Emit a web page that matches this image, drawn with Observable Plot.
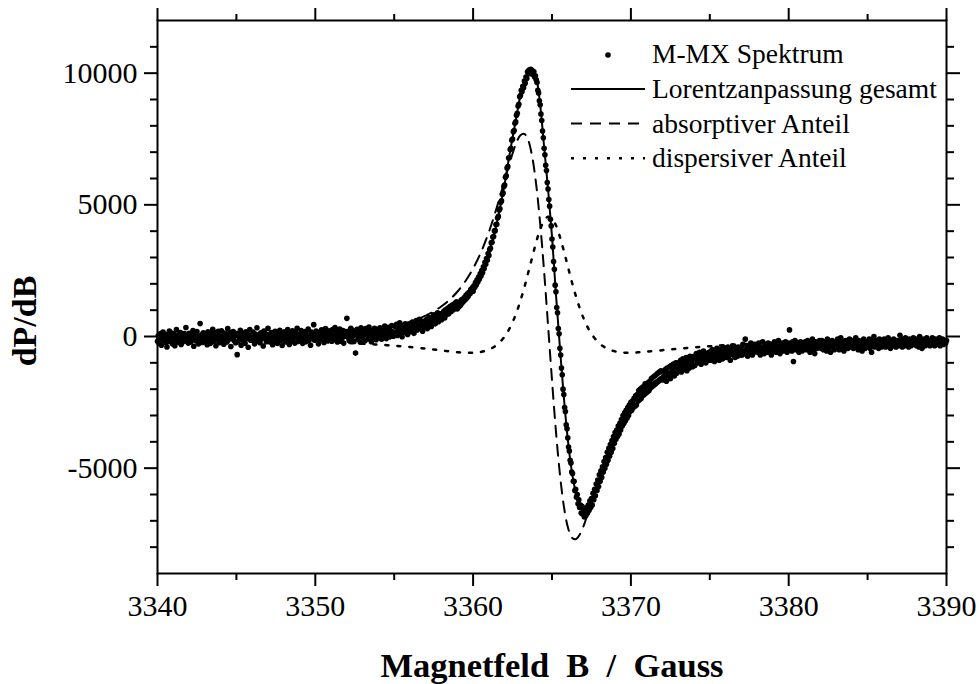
<!DOCTYPE html>
<html>
<head>
<meta charset="utf-8">
<script src="https://cdn.jsdelivr.net/npm/d3@7"></script>
<script src="https://cdn.jsdelivr.net/npm/@observablehq/plot@0.6"></script>
<style>
  html, body { margin: 0; padding: 0; background: #fff; overflow: hidden; }
  #chart svg { display: block; }
</style>
</head>
<body>
<div id="chart"></div>
<script>
// ---------- data ----------
// measured spectrum: uniform field sweep, 3340 ... 3390 G
const specStart = 3340;
const specStep = 0.05;
const specValues = [
  -180, 40, -260, -90, 110, -330, -20, 170, -150, -60, 80, -240, -400, 20, -110, 210, -190, -30, 130, -280,
  -70, 90, -350, -140, 260, -10, -220, 60, -120, 150, -300, -40, 30, -190, 110, -80, 340, -160, -20, -250,
  120, -60, -210, 50, -130, 230, -370, -20, 80, -170, 190, -90, -280, 10, 490, -140, 60, -230, 140, -50,
  -200, 100, -30, -310, 180, -120, 40, -260, 90, -60, 270, -180, -10, 150, -350, 60, -110, 200, -240, 30,
  -90, 220, -160, 10, -290, 130, -50, 80, -210, 300, -120, -20, 160, -380, 40, -70, 190, -150, 70, -240,
  110, -690, -200, 60, -100, 240, -330, -40, 130, -170, 20, -260, 180, -80, 90, -410, 50, 260, -140, -30,
  -120, 170, -60, -280, 90, -190, 330, -10, -150, 60, -240, 140, -90, 30, -360, 210, -50, 100, -200, 40,
  315, -130, 60, -220, 150, -70, -310, 80, -30, 200, -180, 20, -260, 120, -90, 240, -150, 40, -340, 100,
  -40, 180, -210, 90, -120, 260, -60, -300, 130, 10, -170, 220, -80, 50, -250, 140, -20, 310, -190, 70,
  -140, 60, 230, -90, -260, 120, -30, 190, -200, 80, -60, 280, -150, 20, -330, 170, -40, 100, 450, -120,
  -50, 210, -130, 90, -280, 160, 30, -100, 250, -20, 140, -230, 70, 300, -90, 180, -160, 40, 220, -60,
  120, -180, 260, 30, -110, 340, -40, 170, -210, 90, 20, 280, -130, 150, -60, 230, -250, 110, 10, 190,
  690, -20, 200, -150, 120, 310, -80, 240, 20, -190, 160, -630, 90, 270, -100, 180, 40, -220, 330, 70,
  -30, 250, 110, -160, 300, 60, 190, -90, 360, 20, 140, -200, 230, 80, -40, 310, 150, -120, 270, 50,
  200, -50, 330, 110, -100, 260, 170, 20, 400, 90, -80, 290, 140, 350, -20, 230, 60, 420, 180, 10,
  90, 380, 170, 460, 40, 300, 230, 520, 120, 350, -10, 420, 260, 160, 480, 210, 370, 80, 440, 300,
  180, 470, 260, 550, 330, 120, 500, 380, 610, 250, 430, 340, 650, 290, 520, 400, 200, 580, 450, 360,
  390, 640, 300, 560, 720, 470, 620, 380, 700, 530, 820, 600, 480, 760, 650, 900, 560, 780, 690, 850,
  640, 880, 760, 960, 700, 1010, 830, 920, 1080, 860, 1000, 1150, 940, 1080, 1200, 1020, 1160, 1260, 1100, 1320,
  1050, 1220, 1130, 1300, 1190, 1380, 1270, 1420, 1340, 1480, 1400, 1560, 1460, 1620, 1540, 1680, 1620, 1780, 1700, 1850,
  1720, 1930, 1860, 2050, 1960, 2150, 2070, 2260, 2180, 2380, 2300, 2500, 2420, 2650, 2580, 2820, 2740, 2960, 2900, 3150,
  3080, 3300, 3350, 3560, 3580, 3780, 3800, 4010, 4020, 4250, 4260, 4500, 4560, 4800, 4850, 5100, 5150, 5400, 5450, 5700,
  5750, 6050, 6100, 6400, 6450, 6780, 6800, 7100, 7150, 7450, 7500, 7780, 7820, 8100, 8150, 8400, 8480, 8750, 8820, 9100,
  9150, 9350, 9300, 9500, 9450, 9700, 9620, 9850, 9800, 10050, 9980, 10120, 10000, 10150, 9980, 10100, 9950, 10050, 9850, 9900,
  9750, 9650, 9350, 9250, 8950, 8800, 8450, 8200, 7800, 7550, 7150, 6900, 6500, 6300, 5850, 5600, 5200, 4950, 4450, 4200,
  3700, 3400, 2850, 2550, 1950, 1700, 1100, 900, 300, 100, -450, -700, -1200, -1450, -2000, -2200, -2700, -2850, -3350, -3500,
  -3850, -4200, -4350, -4700, -4800, -5150, -5200, -5500, -5500, -5850, -5800, -6100, -6000, -6350, -6200, -6500, -6400, -6700, -6450, -6750,
  -6550, -6850, -6600, -6800, -6500, -6700, -6400, -6600, -6250, -6500, -6150, -6400, -5950, -6200, -5800, -6050, -5600, -5850, -5450, -5700,
  -5250, -5500, -5100, -5350, -4950, -5150, -4750, -5000, -4600, -4850, -4400, -4700, -4250, -4550, -4100, -4400, -3950, -4250, -3800, -4050,
  -3650, -3900, -3550, -3800, -3400, -3700, -3300, -3550, -3150, -3400, -3000, -3300, -2900, -3200, -2800, -3100, -2700, -3000, -2600, -2850,
  -2500, -2800, -2450, -2700, -2350, -2650, -2250, -2600, -2200, -2450, -2050, -2400, -2000, -2350, -1950, -2250, -1900, -2200, -1800, -2150,
  -1800, -2100, -1750, -2050, -1700, -1950, -1600, -1900, -1550, -1850, -1500, -1800, -1450, -1750, -1400, -1700, -1350, -1650, -1300, -1600,
  -1350, -1650, -1300, -1550, -1250, -1700, -1200, -1500, -1400, -1150, -1600, -1100, -1450, -1300, -1050, -1500, -1200, -1000, -1400, -1150,
  -1000, -1300, -1150, -900, -1350, -1050, -850, -1250, -950, -1100, -800, -1300, -1000, -900, -1200, -750, -1050, -950, -1150, -800,
  -750, -1100, -850, -650, -1000, -800, -950, -600, -900, -1050, -700, -850, -550, -950, -750, -1000, -650, -800, -900, -600,
  -600, -900, -700, -500, -850, -650, -950, -550, -750, -450, -800, -650, -900, -500, -700, -600, -850, -400, -750, -550,
  -500, -800, -650, -400, -750, -550, -900, -450, -650, -350, -700, -600, -800, -450, -550, -750, -400, -650, -500, -700,
  -400, -700, -300, -650, -550, -100, -600, -450, -750, -350, -550, -650, -250, -500, -700, -400, -600, -300, -550, -450,
  -350, -600, -250, -500, -700, -400, -550, -200, -450, -650, -300, -500, -400, -600, -250, -550, -350, -450, -700, -300,
  -300, -550, -200, -450, -600, -350, -500, -150, -400, -650, -300, -450, -250, -550, -350, -500, -200, -450, -600, -300,
  -250, 250, -450, -300, -550, -200, -950, -400, -150, -500, -350, -250, -450, -600, -300, -200, -400, -550, -250, -350,
  -400, -200, -500, -300, -150, -450, -350, -600, -250, -400, -100, -500, -300, -650, -200, -350, -450, -250, -400, -150,
  -250, -450, -150, -350, -500, -200, -400, -300, -550, -100, -350, -450, -250, -600, -300, -150, -400, -250, -500, -350,
  -200, -400, -100, -350, -500, -250, -50, -450, -300, -200, -550, -350, -150, -400, -250, -450, -300, -100, -400, -250,
  -300, -150, -450, -200, -350, -50, -400, -250, -500, -150, -300, -400, -200, -550, -250, -100, -350, -450, -200, -300,
  -200, -350, -100, -450, -250, -600, -150, -300, 0, -400, -250, -150, -350, -200, -450, -100, -300, -250, -400, -150,
  -300, -100, -250, -400, -150, -350, -50, -300, -200, -450, -150, -250, -350, -100, -300, -200, -400, -150, -250, -350,
  -150, 50, -300, -200, -400, -100, -250, -350, -50, -300, -150, -250, -400, -100, -200, -350, -150, -300, -50, -250,
  -250, -100, -350, -200, -150, -400, 0, -300, -200, -450, -100, -250, -150, -350, -200, -50, -300, -250, -150, -350,
  -150, -300, -50, -250, -200, -350, -100, -250, -150, -300, -200, -50, -350, -150, -250, -100, -300, -200, -150, -250,
  -150
];

// Lorentz fit curves
const fitField = [3340, 3342, 3344, 3346, 3348, 3350, 3351, 3352, 3353, 3354,
  3355, 3356, 3357, 3357.5, 3358, 3358.5, 3359, 3359.5, 3360, 3360.5,
  3361, 3361.5, 3362, 3362.25, 3362.5, 3362.75, 3363, 3363.25, 3363.5, 3363.75,
  3364, 3364.25, 3364.5, 3364.75, 3365, 3365.25, 3365.5, 3365.75, 3366, 3366.25,
  3366.5, 3366.75, 3367, 3367.25, 3367.5, 3368, 3368.5, 3369, 3369.5, 3370,
  3370.5, 3371, 3372, 3373, 3374, 3375, 3376, 3378, 3380, 3382,
  3384, 3386, 3388, 3390];
const fitTotal = [-60, -50, -40, -30, -10, 10, 20, 40, 70, 110,
  180, 280, 450, 560, 700, 880, 1100, 1400, 1800, 2400,
  3200, 4300, 5800, 6700, 7550, 8350, 9150, 9650, 10000, 10080,
  9800, 8800, 7200, 5600, 3800, 1600, -400, -2300, -3900, -5100,
  -5900, -6400, -6650, -6600, -6300, -5400, -4550, -3800, -3150, -2650,
  -2250, -1950, -1480, -1150, -900, -730, -610, -450, -360, -300,
  -260, -230, -200, -180];
const fitAbsorptive = [-20, -10, 0, 15, 40, 80, 110, 150, 210, 290,
  400, 560, 790, 950, 1150, 1390, 1700, 2090, 2580, 3200,
  3970, 4900, 5930, 6460, 6950, 7370, 7640, 7690, 7440, 6810,
  5760, 4290, 2470, 420, -1660, -3600, -5220, -6440, -7230, -7630,
  -7700, -7530, -7200, -6760, -6300, -5450, -4550, -3750, -3100, -2550,
  -2150, -1800, -1300, -960, -730, -570, -460, -310, -230, -180,
  -150, -130, -115, -100];
const fitDispersive = [-90, -100, -115, -135, -160, -195, -220, -245, -275, -310,
  -350, -400, -460, -495, -530, -565, -595, -615, -615, -585,
  -500, -320, 0, 240, 540, 910, 1360, 1870, 2440, 3020,
  3590, 4070, 4400, 4550, 4480, 4220, 3790, 3250, 2670, 2090,
  1560, 1090, 690, 360, 100, -260, -460, -565, -610, -615,
  -600, -575, -520, -465, -415, -370, -330, -270, -225, -190,
  -165, -145, -130, -115];

const xMajorTicks = [3340, 3350, 3360, 3370, 3380, 3390];
const xMinorTicks = [3345, 3355, 3365, 3375, 3385];
const yMajorTicks = [-5000, 0, 5000, 10000];
const yMinorTicks = [-8000, -7000, -6000, -4000, -3000, -2000, -1000,
  1000, 2000, 3000, 4000, 6000, 7000, 8000, 9000, 11000];
const legendLabels = ["M-MX Spektrum", "Lorentzanpassung gesamt", "absorptiver Anteil", "dispersiver Anteil"];
const xTitle = "Magnetfeld  B  /  Gauss";
const yTitle = "dP/dB";

// ---------- build ----------
const spectrum = specValues.map((v, i) => ({B: +(specStart + i * specStep).toFixed(2), v}));
const fit = fitField.map((B, i) => ({B, total: fitTotal[i], abs: fitAbsorptive[i], disp: fitDispersive[i]}));

const serif = "'Liberation Serif', 'Times New Roman', Times, serif";
const fmt = d => String(d);

const chart = Plot.plot({
  width: 979,
  height: 684,
  marginLeft: 157,
  marginRight: 33,
  marginTop: 20,
  marginBottom: 111,
  style: {fontFamily: serif, fontSize: "30px", background: "#fff", color: "#000", whiteSpace: "pre", overflow: "visible"},
  x: {domain: [3340, 3390], axis: null},
  y: {domain: [-9000, 12000], axis: null},
  marks: [
    Plot.dot(spectrum, {x: "B", y: "v", r: 2.8, fill: "#000"}),
    Plot.line(fit, {x: "B", y: "total", stroke: "#000", strokeWidth: 2, curve: "catmull-rom"}),
    Plot.line(fit, {x: "B", y: "abs", stroke: "#000", strokeWidth: 2, strokeDasharray: "11,8", curve: "catmull-rom"}),
    Plot.line(fit, {x: "B", y: "disp", stroke: "#000", strokeWidth: 2.5, strokeDasharray: "3,9", curve: "catmull-rom"}),
    Plot.frame({stroke: "#000", strokeWidth: 2}),
    Plot.axisX(xMajorTicks, {anchor: "bottom", tickSize: 13, tickPadding: 8, strokeWidth: 2, fontSize: 30, tickFormat: fmt, label: null}),
    Plot.axisX(xMinorTicks, {anchor: "bottom", tickSize: 7, strokeWidth: 2, fill: "none", label: null}),
    Plot.axisX(xMajorTicks, {anchor: "top", tickSize: 13, strokeWidth: 2, fill: "none", label: null}),
    Plot.axisX(xMinorTicks, {anchor: "top", tickSize: 7, strokeWidth: 2, fill: "none", label: null}),
    Plot.axisY(yMajorTicks, {anchor: "left", tickSize: 13, tickPadding: 7, strokeWidth: 2, fontSize: 30, tickFormat: fmt, label: null}),
    Plot.axisY(yMinorTicks, {anchor: "left", tickSize: 7, strokeWidth: 2, fill: "none", label: null}),
    Plot.axisY(yMajorTicks, {anchor: "right", tickSize: 13, strokeWidth: 2, fill: "none", label: null}),
    Plot.axisY(yMinorTicks, {anchor: "right", tickSize: 7, strokeWidth: 2, fill: "none", label: null}),
    Plot.text([xTitle], {frameAnchor: "bottom", dy: 103, lineAnchor: "bottom", textAnchor: "middle", fontSize: 34.5, fontWeight: "bold", fill: "#000"}),
    Plot.text([yTitle], {frameAnchor: "left", dx: -132, dy: 24, rotate: -90, textAnchor: "middle", fontSize: 34, fontWeight: "bold", fill: "#000"})
  ]
});

// ---------- legend (inside the plot area, top right) ----------
const svg = d3.select(chart);
const lg = svg.append("g")
  .attr("font-family", serif).attr("font-size", 27.5)
  .attr("fill", "#000").attr("text-anchor", "start");
const rowBase = [63.3, 98, 132.6, 167.2];
const keyX0 = 571, keyX1 = 645, textX = 652;
const keyStyles = [null, null, "11,8", "3,9"];
legendLabels.forEach((label, i) => {
  const yb = rowBase[i];
  if (i === 0) {
    lg.append("circle").attr("cx", 608).attr("cy", yb - 8.3).attr("r", 2.8).attr("fill", "#000");
  } else {
    const ln = lg.append("line")
      .attr("x1", keyX0).attr("x2", keyX1)
      .attr("y1", yb - 9).attr("y2", yb - 9)
      .attr("stroke", "#000").attr("stroke-width", i === 3 ? 2.5 : 2);
    if (keyStyles[i]) ln.attr("stroke-dasharray", keyStyles[i]);
  }
  lg.append("text").attr("x", textX).attr("y", yb).attr("text-anchor", "start").text(label);
});

document.getElementById("chart").appendChild(chart);
</script>
</body>
</html>
